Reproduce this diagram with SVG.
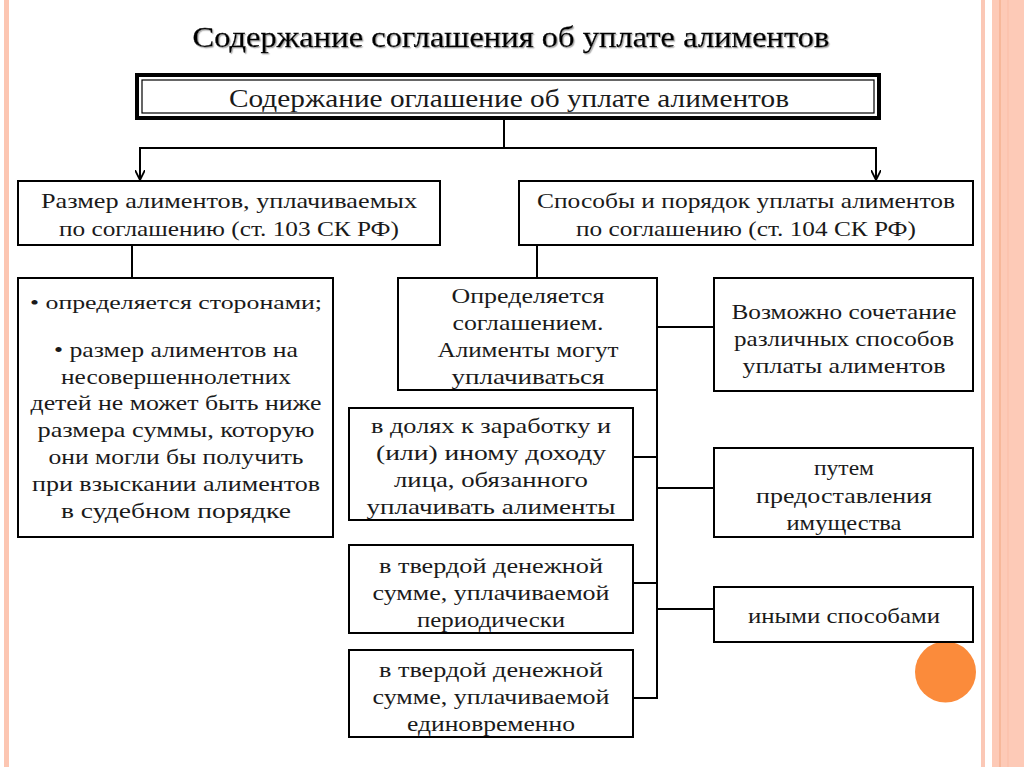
<svg xmlns="http://www.w3.org/2000/svg" width="1024" height="767" viewBox="0 0 1024 767">
<style>
.box{fill:#fff;stroke:#000;stroke-width:2}
.ln{fill:none;stroke:#000;stroke-width:2}
.t{font-size:21px;fill:#1a1a1a;text-anchor:middle}
.title{font-size:29px;fill:#000;text-anchor:middle;stroke:#000;stroke-width:0.3}
.head{font-size:25px;fill:#1a1a1a;text-anchor:middle}
</style>
<defs>
<marker id="arr" viewBox="0 0 10 10" refX="10" refY="5" markerWidth="10" markerHeight="10" markerUnits="userSpaceOnUse" orient="auto">
<path d="M0,0 L10,5 L0,10" fill="none" stroke="#000" stroke-width="1.8"/>
</marker>
<filter id="sh" x="-5%" y="-20%" width="110%" height="150%">
<feDropShadow dx="1.2" dy="1.2" stdDeviation="0.5" flood-color="#999" flood-opacity="0.8"/>
</filter>
</defs>
<rect width="1024" height="767" fill="#fff"/>
<g id="decor">
<rect x="4" y="0" width="5" height="767" fill="#fcc6b2"/>
<rect x="981" y="0" width="4" height="767" fill="#fbc8b6"/>
<rect x="992" y="0" width="32" height="767" fill="#fdcab7"/>
<line x1="1000" y1="0" x2="1000" y2="767" stroke="#f1a57e" stroke-width="1"/>
<line x1="1008" y1="0" x2="1008" y2="767" stroke="#fbbda6" stroke-width="1"/>
<circle cx="945.5" cy="672" r="30.5" fill="#fb8b3b"/>
</g>
<g font-family="Liberation Serif, Times New Roman, serif">
<g id="title">
<text class="title" x="511" y="47" textLength="637" lengthAdjust="spacingAndGlyphs" filter="url(#sh)">Содержание соглашения об уплате алиментов</text>
</g>
<g id="connectors">
<line class="ln" x1="504" y1="120" x2="504" y2="148"/>
<line class="ln" x1="139" y1="148" x2="877" y2="148"/>
<line class="ln" x1="140" y1="148" x2="140" y2="180" marker-end="url(#arr)"/>
<line class="ln" x1="876" y1="148" x2="876" y2="180" marker-end="url(#arr)"/>
<line class="ln" x1="132" y1="245" x2="132" y2="278"/>
<line class="ln" x1="537" y1="245" x2="537" y2="278"/>
<line class="ln" x1="657" y1="390" x2="657" y2="698"/>
<line class="ln" x1="657" y1="327" x2="714" y2="327"/>
<line class="ln" x1="633" y1="457" x2="657" y2="457"/>
<line class="ln" x1="657" y1="488" x2="714" y2="488"/>
<line class="ln" x1="633" y1="583" x2="657" y2="583"/>
<line class="ln" x1="657" y1="609" x2="714" y2="609"/>
<line class="ln" x1="633" y1="698" x2="658" y2="698"/>
</g>
<g id="root">
<rect x="137" y="75" width="742" height="43" fill="#fff" stroke="#000" stroke-width="4"/>
<rect x="142" y="80" width="732" height="33" fill="none" stroke="#000" stroke-width="1.2"/>
<text class="head" x="509" y="107" textLength="560" lengthAdjust="spacingAndGlyphs">Содержание оглашение об уплате алиментов</text>
</g>
<g id="size">
<rect class="box" x="18" y="181" width="422" height="64"/>
<text class="t" x="229" y="208" textLength="376" lengthAdjust="spacingAndGlyphs">Размер алиментов, уплачиваемых</text>
<text class="t" x="229" y="236" textLength="340" lengthAdjust="spacingAndGlyphs">по соглашению (ст. 103 СК РФ)</text>
</g>
<g id="methods">
<rect class="box" x="519" y="181" width="454" height="64"/>
<text class="t" x="746" y="208" textLength="418" lengthAdjust="spacingAndGlyphs">Способы и порядок уплаты алиментов</text>
<text class="t" x="746" y="236" textLength="340" lengthAdjust="spacingAndGlyphs">по соглашению (ст. 104 СК РФ)</text>
</g>
<g id="size-details">
<rect class="box" x="18" y="278" width="315" height="259"/>
<text class="t" x="176" y="309" style="font-size:19px" textLength="292" lengthAdjust="spacingAndGlyphs">• определяется сторонами;</text>
<text class="t" x="176" y="357" textLength="244" lengthAdjust="spacingAndGlyphs">• размер алиментов на</text>
<text class="t" x="176" y="384" textLength="230" lengthAdjust="spacingAndGlyphs">несовершеннолетних</text>
<text class="t" x="176" y="410" textLength="291" lengthAdjust="spacingAndGlyphs">детей не может быть ниже</text>
<text class="t" x="176" y="437" textLength="277" lengthAdjust="spacingAndGlyphs">размера суммы, которую</text>
<text class="t" x="176" y="464" textLength="255" lengthAdjust="spacingAndGlyphs">они могли бы получить</text>
<text class="t" x="176" y="491" textLength="288" lengthAdjust="spacingAndGlyphs">при взыскании алиментов</text>
<text class="t" x="176" y="518" textLength="230" lengthAdjust="spacingAndGlyphs">в судебном порядке</text>
</g>
<g id="defined">
<rect class="box" x="398" y="278" width="259" height="112"/>
<text class="t" x="528" y="303" textLength="153" lengthAdjust="spacingAndGlyphs">Определяется</text>
<text class="t" x="528" y="330" textLength="151" lengthAdjust="spacingAndGlyphs">соглашением.</text>
<text class="t" x="528" y="357" textLength="181" lengthAdjust="spacingAndGlyphs">Алименты могут</text>
<text class="t" x="528" y="384" textLength="153" lengthAdjust="spacingAndGlyphs">уплачиваться</text>
</g>
<g id="combo">
<rect class="box" x="714" y="278" width="259" height="113"/>
<text class="t" x="844" y="319" textLength="225" lengthAdjust="spacingAndGlyphs">Возможно сочетание</text>
<text class="t" x="844" y="346" textLength="220" lengthAdjust="spacingAndGlyphs">различных способов</text>
<text class="t" x="844" y="373" textLength="203" lengthAdjust="spacingAndGlyphs">уплаты алиментов</text>
</g>
<g id="shares">
<rect class="box" x="349" y="408" width="284" height="112"/>
<text class="t" x="491" y="433" textLength="240" lengthAdjust="spacingAndGlyphs">в долях к заработку и</text>
<text class="t" x="491" y="460" textLength="230" lengthAdjust="spacingAndGlyphs">(или) иному доходу</text>
<text class="t" x="491" y="487" textLength="194" lengthAdjust="spacingAndGlyphs">лица, обязанного</text>
<text class="t" x="491" y="514" textLength="249" lengthAdjust="spacingAndGlyphs">уплачивать алименты</text>
</g>
<g id="property">
<rect class="box" x="714" y="448" width="259" height="89"/>
<text class="t" x="844" y="475" textLength="60" lengthAdjust="spacingAndGlyphs">путем</text>
<text class="t" x="844" y="503" textLength="176" lengthAdjust="spacingAndGlyphs">предоставления</text>
<text class="t" x="844" y="530" textLength="115" lengthAdjust="spacingAndGlyphs">имущества</text>
</g>
<g id="fixed-periodic">
<rect class="box" x="349" y="545" width="284" height="88"/>
<text class="t" x="491" y="573" textLength="224" lengthAdjust="spacingAndGlyphs">в твердой денежной</text>
<text class="t" x="491" y="600" textLength="237" lengthAdjust="spacingAndGlyphs">сумме, уплачиваемой</text>
<text class="t" x="491" y="627" textLength="148" lengthAdjust="spacingAndGlyphs">периодически</text>
</g>
<g id="other">
<rect class="box" x="714" y="587" width="259" height="55"/>
<text class="t" x="844" y="623" textLength="192" lengthAdjust="spacingAndGlyphs">иными способами</text>
</g>
<g id="fixed-once">
<rect class="box" x="349" y="650" width="284" height="87"/>
<text class="t" x="491" y="677" textLength="224" lengthAdjust="spacingAndGlyphs">в твердой денежной</text>
<text class="t" x="491" y="704" textLength="237" lengthAdjust="spacingAndGlyphs">сумме, уплачиваемой</text>
<text class="t" x="491" y="731" textLength="168" lengthAdjust="spacingAndGlyphs">единовременно</text>
</g>
</g>
</svg>
